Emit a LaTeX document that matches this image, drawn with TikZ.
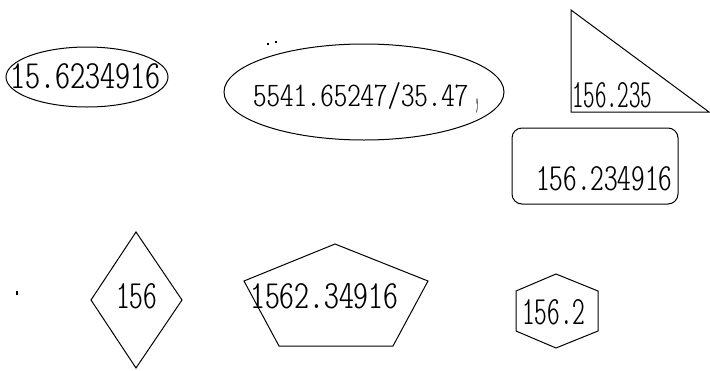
\documentclass[tikz,border=0pt]{standalone}
\usepackage{graphicx}
\tikzset{
  shapeline/.style={draw=black, line width=1pt},
  lbl/.style={inner sep=0pt, anchor=base west, font=\fontfamily{lmtt}\fontseries{lc}\selectfont},
  speck/.style={fill=black, draw=none}
}
\newcommand{\fitt}[3]{\resizebox{#1pt}{#2pt}{#3}}
\begin{document}
\begin{tikzpicture}[x=1pt,y=-1pt]
\useasboundingbox (0,0) rectangle (710,370);
% ellipse 1
\draw[shapeline] (87,77) ellipse [x radius=81, y radius=30];
\node[lbl] (t1) at (10,88) {\fitt{150}{25}{15.6234916}};
% ellipse 2
\draw[shapeline] (364,92) ellipse [x radius=140, y radius=48];
\node[lbl] (t2) at (253,106) {\fitt{215}{24}{5541.65247/35.47}};
\node[lbl] (c2) at (475,104) {\fitt{4}{6}{,}};
\fill[speck] (267,43) rectangle (269,45);
\fill[speck] (275,41) rectangle (277,43);
% triangle
\draw[shapeline] (571,10) -- (571,112) -- (709,112) -- cycle;
\node[lbl] (t3) at (572,107) {\fitt{80}{25}{156.235}};
% rounded rectangle
\draw[shapeline, rounded corners=10pt] (512,128) rectangle (678,204);
\node[lbl] (t4) at (536,190) {\fitt{136}{24}{156.234916}};
% diamond
\draw[shapeline] (136,232) -- (182,300) -- (136,368) -- (91,300) -- cycle;
\node[lbl] (t5) at (116,308) {\fitt{41}{25}{156}};
% pentagon
\draw[shapeline] (335,244) -- (428,281) -- (393,346) -- (279,346) -- (244,281) -- cycle;
\node[lbl] (t6) at (250,308) {\fitt{148}{25}{1562.34916}};
% hexagon
\draw[shapeline] (556,274) -- (598,291) -- (598,331) -- (556,348) -- (516,331) -- (516,291) -- cycle;
\node[lbl] (t7) at (522,324) {\fitt{63}{25}{156.2}};
% speck
\fill[speck] (16,291) rectangle (18,295);
\end{tikzpicture}
\end{document}
